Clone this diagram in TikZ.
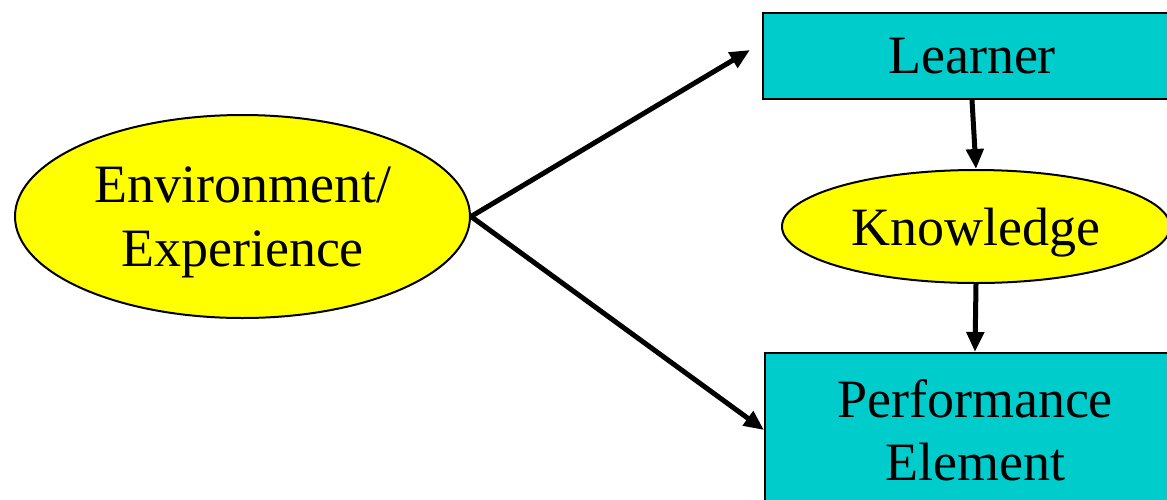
\documentclass[tikz,border=0pt]{standalone}
\usepackage{fontspec}
\setmainfont{Liberation Serif}
\usetikzlibrary{shapes.geometric,arrows.meta}
\definecolor{boxcyan}{RGB}{0,204,204}
\definecolor{ovalyellow}{RGB}{255,255,0}
\tikzset{
  oval/.style={ellipse, draw=black, line width=2pt, fill=ovalyellow, inner sep=0pt,
    text depth=0pt, font=\fontsize{54}{64}\selectfont, align=center},
  block/.style={rectangle, draw=black, line width=2pt, fill=boxcyan, inner sep=0pt,
    font=\fontsize{54}{63}\selectfont, align=center},
  link/.style={line width=5pt, -{Triangle[length=20pt,width=17pt]}}
}
\begin{document}
\begin{tikzpicture}[x=1pt,y=-1pt]
  \useasboundingbox (0,0) rectangle (1167,499);
  \clip (0,0) rectangle (1167,499);
  \node[oval, minimum width=455pt, minimum height=203pt] (env) at (242.5,216.5)
    {Environment/\\Experience};
  \node[block, minimum width=418pt, minimum height=86pt] (learner) at (972,56) {Learner};
  \node[oval, minimum width=388pt, minimum height=113pt] (know) at (976,226.5) {Knowledge};
  \node[block, minimum width=420pt, minimum height=154pt] (perf) at (975,430)
    {Performance\\Element};
  \coordinate (tipA) at (750,50);
  \draw[link] (env.east) -- (tipA);
  \draw[link] (env.east) -- (perf.west);
  \draw[link] (learner.south) -- (know.north);
  \draw[link] (know.south) -- (perf.north);
\end{tikzpicture}
\end{document}
